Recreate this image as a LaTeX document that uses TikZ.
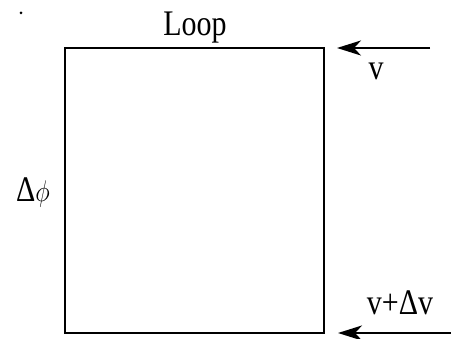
\documentclass[tikz,border=0pt]{standalone}
\usepackage{fontspec}
\setmainfont{Liberation Serif}
\usepackage{tikz}
\usetikzlibrary{arrows.meta,positioning}
\tikzset{
  loopbox/.style={draw, line width=2.4pt, minimum width=259pt, minimum height=285pt, inner sep=0pt},
  lbl/.style={font=\fontsize{30}{36}\selectfont, inner sep=0pt, anchor=base},
  arrow/.style={-{Stealth[length=24pt, width=15pt, inset=7pt]}, line width=2.4pt},
}
\newcommand{\tall}[1]{\scalebox{1}[1.2]{#1}}

\begin{document}
\begin{tikzpicture}[x=1pt, y=-1pt]
  \useasboundingbox (0,0) rectangle (451,339);

  \node[loopbox] (loop) at (194.5,190.5) {};

  \node[lbl] (title) at (195,36) {\tall{Loop}};
  \node[lbl] (phi) at (33,202) {\tall{Δ$\phi$}};
  \node[lbl] (v) at (376,80) {\tall{v}};
  \node[lbl] (dv) at (400,315) {\tall{v+Δv}};

  \fill (21,13) circle (1.5pt);

  \coordinate (vin) at (430,48);
  \coordinate (vtip) at (337,48);
  \coordinate (dvin) at (451,333);
  \coordinate (dvtip) at (338,333);

  \draw[arrow] (vin) -- (vtip);
  \draw[arrow] (dvin) -- (dvtip);

\end{tikzpicture}
\end{document}
